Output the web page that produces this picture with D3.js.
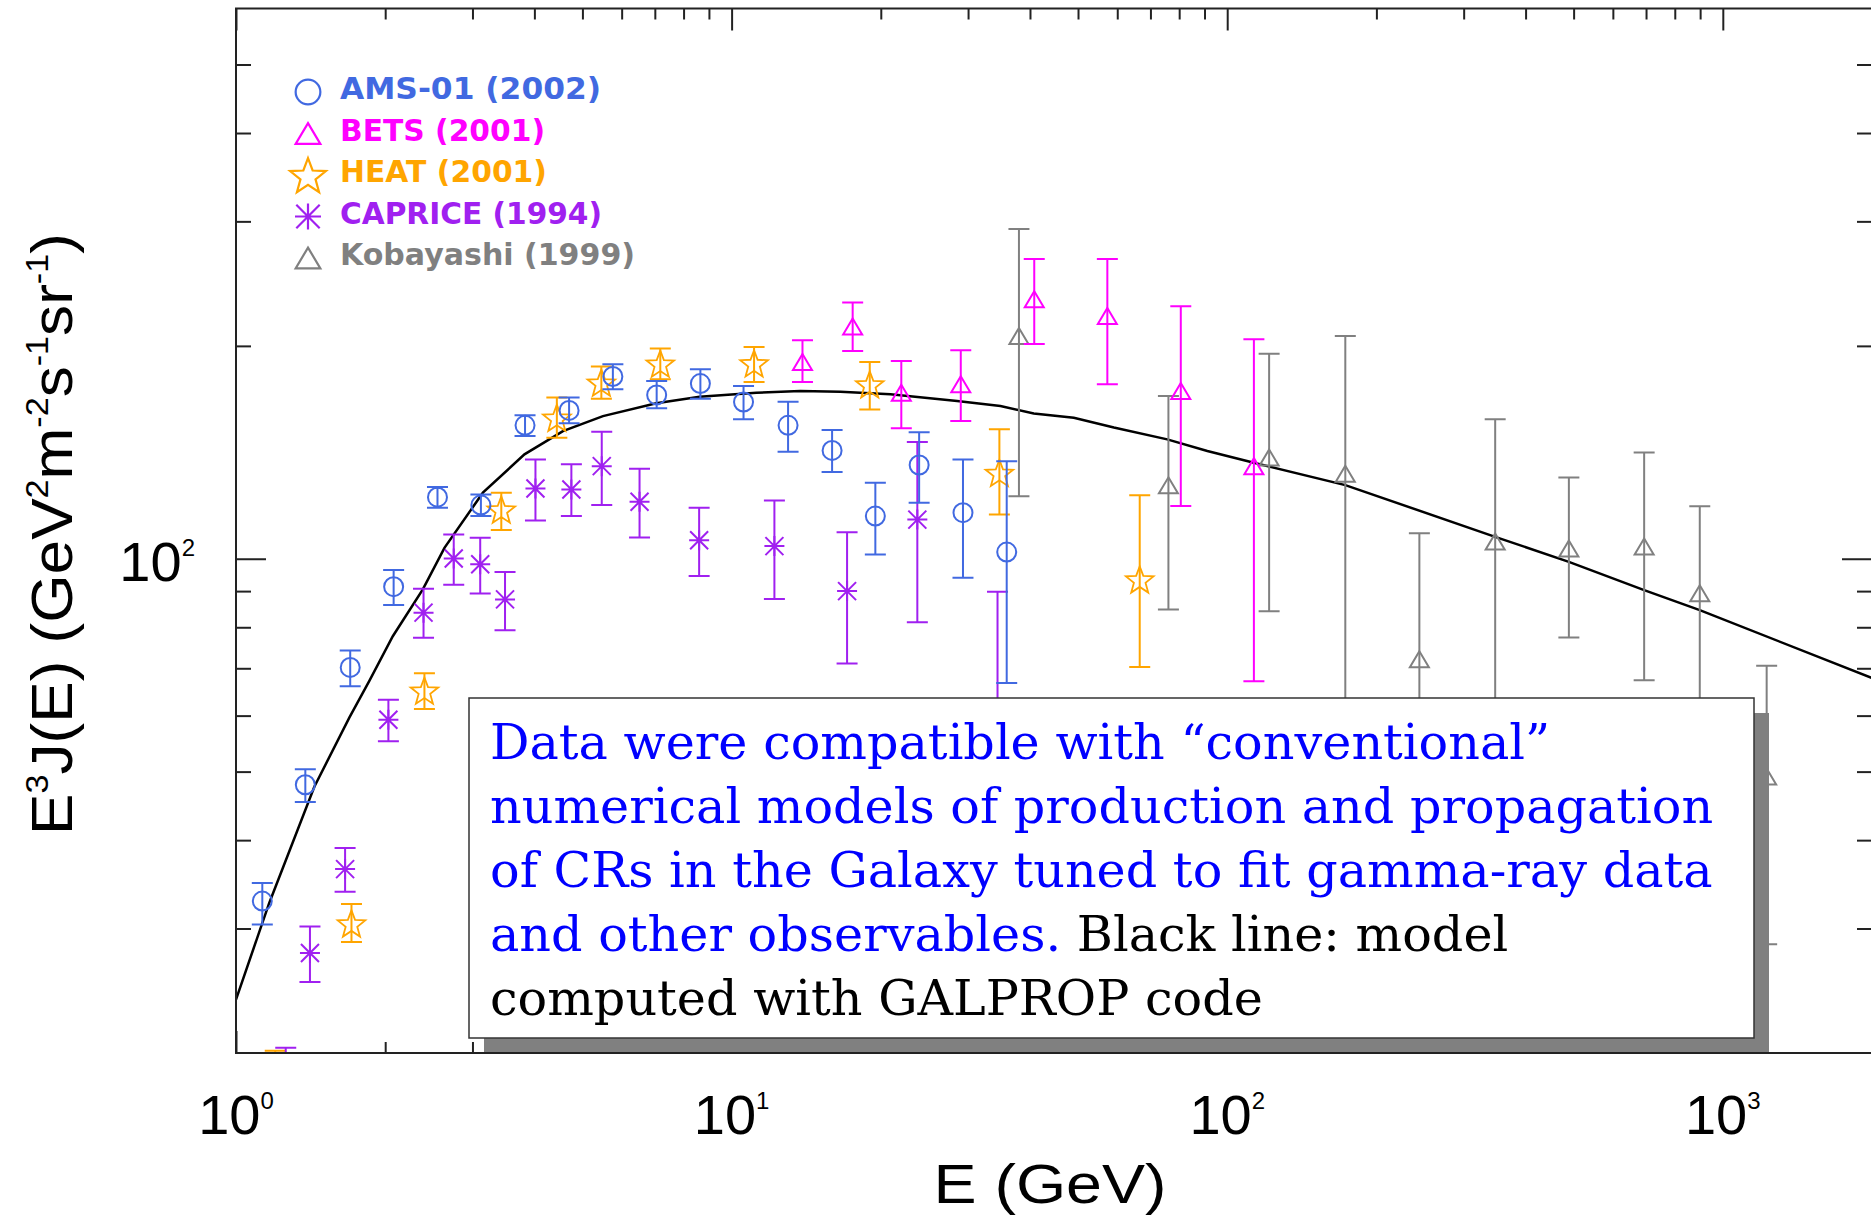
<!DOCTYPE html>
<html lang="en">
<head>
<meta charset="utf-8">
<title>CR electron spectrum</title>
<script src="https://cdn.jsdelivr.net/npm/d3@7"></script>
<style>
body { margin: 0; background: #fff; }
svg { display: block; }
.legend text { font-family: "DejaVu Sans", sans-serif; font-weight: bold; font-size: 30px; }
.tlabel { font-family: "Liberation Sans", sans-serif; font-size: 56px; fill: #000; }
.title { font-family: "Liberation Sans", sans-serif; fill: #000; }
.note { font-family: "DejaVu Serif", serif; font-size: 52px; }
</style>
</head>
<body>
<script>
// ---- data ----
var amsE  = [1.13, 1.38, 1.70, 2.08, 2.55, 3.12, 3.83, 4.70, 5.76, 7.06, 8.65, 10.57, 13.0, 15.95, 19.5, 23.9, 29.3, 35.9];
var amsV  = [32.8, 47.9, 70.2, 91.3, 122.2, 119.1, 154.4, 162.1, 181.0, 170.5, 176.9, 166.6, 154.4, 142.3, 114.9, 135.7, 116.2, 102.2];
var amsLo = [30.4, 45.3, 66.0, 86.0, 118.1, 114.9, 149.1, 155.4, 173.7, 163.2, 168.4, 157.5, 141.7, 132.6, 101.4, 120.0, 94.0, 66.7];
var amsHi = [34.8, 50.4, 74.2, 96.4, 126.3, 123.3, 159.5, 169.0, 188.4, 178.4, 185.3, 175.5, 166.8, 152.1, 128.1, 151.0, 138.2, 137.4];

var betsE  = [13.9, 17.55, 22.0, 29.0, 40.8, 57.3, 80.6, 113.2];
var betsV  = [189.8, 213.0, 171.7, 176.5, 232.8, 220.4, 172.7, 135.2];
var betsLo = [177.8, 196.7, 153.0, 156.6, 201.2, 176.5, 118.7, 67.1];
var betsHi = [203.7, 230.3, 190.4, 197.1, 265.4, 265.4, 227.6, 204.4];

var heatE  = [1.2, 1.71, 2.40, 3.43, 4.44, 5.46, 7.18, 11.1, 19.0, 34.7, 66.6];
var heatV  = [17.0, 30.5, 65.1, 117.4, 158.3, 177.5, 188.8, 189.0, 176.5, 132.3, 93.5];
var heatLo = [14.0, 28.7, 61.3, 109.8, 148.3, 168.4, 179.4, 177.8, 162.6, 115.5, 70.3];
var heatHi = [20.15, 32.5, 68.9, 124.0, 169.0, 187.0, 198.3, 199.3, 189.8, 152.4, 123.0];

var capE  = [1.26, 1.41, 1.66, 2.03, 2.39, 2.75, 3.11, 3.49, 4.02, 4.75, 5.47, 6.52, 8.60, 12.2, 17.1, 23.7, 34.4];
var capV  = [17.5, 27.7, 36.4, 59.2, 83.9, 100.1, 98.2, 87.6, 125.7, 125.3, 135.2, 120.4, 106.2, 104.2, 90.0, 113.6, 55.0];
var capLo = [15.0, 25.2, 33.8, 55.2, 77.3, 91.9, 89.3, 79.2, 113.3, 114.9, 119.1, 107.2, 94.5, 87.7, 71.1, 81.3, 35.0];
var capHi = [20.35, 30.2, 39.0, 63.2, 90.7, 108.2, 107.1, 95.8, 138.2, 136.0, 151.2, 134.1, 118.1, 120.9, 109.0, 146.2, 89.8];

var kobE  = [38.0, 76.1, 121.5, 173.1, 244.2, 347.3, 489.1, 693.9, 898.5, 1226];
var kobV  = [206.6, 127.0, 139.1, 131.9, 72.1, 105.8, 103.4, 104.1, 89.4, 49.2];
var kobLo = [122.6, 84.8, 84.3, 45.0, 47.8, 50.0, 77.4, 67.3, 50.0, 28.5];
var kobHi = [292.6, 169.9, 194.9, 206.5, 108.7, 157.5, 130.3, 141.3, 118.6, 70.6];

// GALPROP model line
var modelE = [1.0, 1.167, 1.439, 1.693, 1.858, 2.072, 2.382, 2.634, 3.149, 3.820, 4.567, 5.501, 7.047, 8.619, 11.22, 13.76, 16.58, 20.91, 28.51, 34.87, 40.71, 49.03, 59.06, 75.69, 91.18, 113.2, 173.1, 347.3, 489.1, 693.9, 898.5, 2000];
var modelV = [23.8, 32.6, 47.6, 59.6, 67.2, 77.7, 90.5, 103.6, 124.0, 140.5, 151.5, 159.1, 165.9, 169.5, 171.7, 172.7, 172.3, 170.8, 167.1, 164.4, 160.5, 158.3, 153.3, 147.5, 142.0, 136.7, 127.1, 107.4, 99.0, 90.3, 84.6, 67.8];

var legendNames = ["AMS-01 (2002)", "BETS (2001)", "HEAT (2001)", "CAPRICE (1994)", "Kobayashi (1999)"];

var xMajor = [1, 10, 100, 1000];
var xMinor = [2, 3, 4, 5, 6, 7, 8, 9, 20, 30, 40, 50, 60, 70, 80, 90, 200, 300, 400, 500, 600, 700, 800, 900];
var yMajor = [100];
var yMinor = [30, 40, 50, 60, 70, 80, 90, 200, 300, 400, 500];

// blue part, black part of each line of the note
var noteLines = [
  ["Data were compatible with \u201cconventional\u201d", ""],
  ["numerical models of production and propagation", ""],
  ["of CRs in the Galaxy tuned to fit gamma-ray data", ""],
  ["and other observables.", " Black line: model"],
  ["", "computed with GALPROP code"]
];

// ---- layout ----
var w = 1871, h = 1215;
var mLeft = 236, mRight = 1872, mTop = 8.5, mBottom = 1053;

var xScale = d3.scaleLog().domain([1, 2000]).range([mLeft, mRight]);
var yScale = d3.scaleLog().domain([20, 600]).range([mBottom, mTop]);

var svg = d3.select("body").append("svg")
  .attr("width", w)
  .attr("height", h);

svg.append("defs").append("clipPath").attr("id", "plotclip")
  .append("rect")
  .attr("x", mLeft).attr("y", mTop)
  .attr("width", mRight - mLeft).attr("height", mBottom - mTop);

var plot = svg.append("g").attr("clip-path", "url(#plotclip)");

// model curve
plot.append("path")
  .datum(d3.zip(modelE, modelV))
  .attr("d", d3.line().x(function(d) { return xScale(d[0]); }).y(function(d) { return yScale(d[1]); }))
  .attr("fill", "none")
  .attr("stroke", "#000")
  .attr("stroke-width", 2.5);

// symbols
function starPath(R) {
  var pts = [];
  for (var i = 0; i < 10; i++) {
    var a = -Math.PI / 2 + i * Math.PI / 5;
    var r = i % 2 ? R * 0.42 : R;
    pts.push((r * Math.cos(a)).toFixed(2) + "," + (r * Math.sin(a) + R * 0.1).toFixed(2));
  }
  return "M" + pts.join("L") + "Z";
}
var symbols = {
  circle: function(s) { var r = 9.5 * s; return "M" + r + ",0A" + r + "," + r + " 0 1,1 " + (-r) + ",0A" + r + "," + r + " 0 1,1 " + r + ",0Z"; },
  triangle: function(s) { return "M0," + (-8 * s) + "L" + (9.5 * s) + "," + (8 * s) + "L" + (-9.5 * s) + "," + (8 * s) + "Z"; },
  star: function(s) { return starPath(14.5 * s); },
  asterisk: function(s) {
    var a = 10 * s, b = 9 * s;
    return "M" + (-a) + ",0H" + a + "M0," + (-a) + "V" + a +
      "M" + (-b) + "," + (-b) + "L" + b + "," + b + "M" + (-b) + "," + b + "L" + b + "," + (-b);
  }
};

var series = [
  { E: heatE, v: heatV, lo: heatLo, hi: heatHi, color: "#FFA500", sym: "star" },
  { E: capE, v: capV, lo: capLo, hi: capHi, color: "#A020F0", sym: "asterisk" },
  { E: amsE, v: amsV, lo: amsLo, hi: amsHi, color: "#4169E1", sym: "circle" },
  { E: kobE, v: kobV, lo: kobLo, hi: kobHi, color: "#808080", sym: "triangle" },
  { E: betsE, v: betsV, lo: betsLo, hi: betsHi, color: "#FF00FF", sym: "triangle" }
];

var cap = 10.5;
series.forEach(function(s) {
  var pts = s.E.map(function(e, i) { return { e: e, v: s.v[i], lo: s.lo[i], hi: s.hi[i] }; });
  var g = plot.append("g")
    .attr("stroke", s.color)
    .attr("stroke-width", 2)
    .attr("fill", "none");
  g.selectAll("path.err")
    .data(pts)
    .enter()
    .append("path")
    .attr("class", "err")
    .attr("d", function(d) {
      var x = xScale(d.e), y1 = yScale(d.lo), y2 = yScale(d.hi);
      return "M" + x + "," + y1 + "V" + y2 +
        "M" + (x - cap) + "," + y1 + "H" + (x + cap) +
        "M" + (x - cap) + "," + y2 + "H" + (x + cap);
    });
  g.selectAll("path.mark")
    .data(pts)
    .enter()
    .append("path")
    .attr("class", "mark")
    .attr("transform", function(d) { return "translate(" + xScale(d.e) + "," + yScale(d.v) + ")"; })
    .attr("d", symbols[s.sym](1))
    .attr("stroke-width", s.sym === "star" ? 1.8 : 2);
});

// ticks (inward)
function ticks(axis, vals, size, tx, ty) {
  var g = svg.append("g")
    .attr("transform", "translate(" + tx + "," + ty + ")")
    .call(axis.tickValues(vals).tickSize(size).tickFormat(""));
  g.select(".domain").remove();
  g.selectAll("line").attr("stroke", "#222").attr("stroke-width", 2);
}
ticks(d3.axisBottom(xScale), xMinor, -11, 0, mBottom);
ticks(d3.axisBottom(xScale), xMajor, -22, 0, mBottom);
ticks(d3.axisTop(xScale), xMinor, -11, 0, mTop);
ticks(d3.axisTop(xScale), xMajor, -22, 0, mTop);
ticks(d3.axisLeft(yScale), yMinor, -15, mLeft, 0);
ticks(d3.axisLeft(yScale), yMajor, -30, mLeft, 0);
ticks(d3.axisRight(yScale), yMinor, -15, mRight, 0);
ticks(d3.axisRight(yScale), yMajor, -30, mRight, 0);

// note box with shadow
var bx = 469, by = 698, bw = 1285, bh = 340, off = 15;
svg.append("rect")
  .attr("x", bx + off).attr("y", by + off)
  .attr("width", bw).attr("height", bh)
  .attr("fill", "#808080");
svg.append("rect")
  .attr("x", bx).attr("y", by)
  .attr("width", bw).attr("height", bh)
  .attr("fill", "#fff")
  .attr("stroke", "#333")
  .attr("stroke-width", 1.5);

var note = svg.append("g").attr("class", "note");
var noteTexts = noteLines.map(function(line, i) {
  var t = note.append("text")
    .attr("x", 490)
    .attr("y", 759 + i * 64);
  t.append("tspan").attr("fill", "#0000FF").text(line[0]);
  t.append("tspan").attr("fill", "#000").text(line[1]);
  return t;
});
// size the serif so the longest line spans the width it has in the picture
var widest = noteTexts[2].node().getComputedTextLength();
note.style("font-size", (52 * 1223 / widest) + "px");

// frame
svg.append("rect")
  .attr("x", mLeft).attr("y", mTop)
  .attr("width", mRight - mLeft).attr("height", mBottom - mTop)
  .attr("fill", "none")
  .attr("stroke", "#222")
  .attr("stroke-width", 2);

// tick labels
xMajor.forEach(function(v, k) {
  var t = svg.append("text")
    .attr("class", "tlabel")
    .attr("x", xScale(v))
    .attr("y", 1134)
    .attr("text-anchor", "middle");
  t.append("tspan").text("10");
  t.append("tspan").attr("font-size", 24).attr("dy", -25).text(k);
});
yMajor.forEach(function(v) {
  var t = svg.append("text")
    .attr("class", "tlabel")
    .attr("x", 195)
    .attr("y", yScale(v) + 22)
    .attr("text-anchor", "end");
  t.append("tspan").text("10");
  t.append("tspan").attr("font-size", 24).attr("dy", -25).text("2");
});

// axis titles, squeezed to the width seen in the picture
function fitted(parts, size, cx, cy, target, rotate) {
  var t = svg.append("text").attr("class", "title").attr("font-size", size);
  var shift = 0;
  parts.forEach(function(p) {
    var sup = p[1] ? -size * 0.42 : 0;
    t.append("tspan")
      .attr("font-size", p[1] ? size * 0.55 : size)
      .attr("dy", sup - shift)
      .text(p[0]);
    shift = sup;
  });
  var len = t.node().getComputedTextLength();
  t.attr("text-anchor", "middle")
   .attr("transform", "translate(" + cx + "," + cy + ")" + (rotate ? " rotate(-90)" : "") + " scale(" + (target / len) + ",1)");
}
fitted([["E (GeV)", 0]], 56, 1050, 1203, 233, false);
fitted([["E", 0], ["3", 1], ["J(E) (GeV", 0], ["2", 1], ["m", 0], ["-2", 1], ["s", 0], ["-1", 1], ["sr", 0], ["-1", 1], [")", 0]],
  58, 72, 534, 602, true);

// legend
var legendColors = ["#4169E1", "#FF00FF", "#FFA500", "#A020F0", "#808080"];
var legendSyms = ["circle", "triangle", "star", "asterisk", "triangle"];
var legendWidths = [261, 205, 207, 262, 295];
var legend = svg.append("g").attr("class", "legend");
legendNames.forEach(function(name, i) {
  var yb = 99 + i * 41.5;
  legend.append("path")
    .attr("transform", "translate(308," + (yb - 7) + ")")
    .attr("d", symbols[legendSyms[i]](1.3))
    .attr("fill", "none")
    .attr("stroke", legendColors[i])
    .attr("stroke-width", 2.2);
  legend.append("text")
    .attr("x", 340)
    .attr("y", yb)
    .attr("fill", legendColors[i])
    .attr("textLength", legendWidths[i])
    .attr("lengthAdjust", "spacingAndGlyphs")
    .text(name);
});
</script>
</body>
</html>
